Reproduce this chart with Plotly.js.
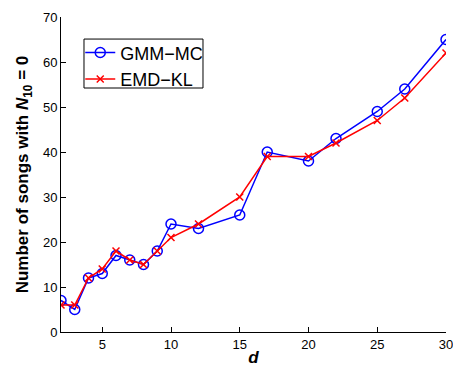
<!DOCTYPE html>
<html>
<head>
<meta charset="utf-8">
<script src="https://cdn.plot.ly/plotly-3.0.1.min.js"></script>
<style>html,body{margin:0;padding:0;background:#fff;}#chart{width:453px;height:367px;}</style>
</head>
<body>
<div id="chart"></div>
<script>
const dValues = [2, 3, 4, 5, 6, 7, 8, 9, 10, 12, 15, 17, 20, 22, 25, 27, 30];
const gmmMC = [7, 5, 12, 13, 17, 16, 15, 18, 24, 23, 26, 40, 38, 43, 49, 54, 65];
const emdKL = [6, 6, 12, 14, 18, 16, 15, 18, 21, 24, 30, 39, 39, 42, 47, 52, 62];
const seriesNames = ['GMM\u2212MC', 'EMD\u2212KL'];
const xTicks = [5, 10, 15, 20, 25, 30];
const yTicks = [0, 10, 20, 30, 40, 50, 60, 70];

const font = 'Liberation Sans, Arial, Helvetica, sans-serif';
const traces = [
  {x: dValues, y: gmmMC, name: seriesNames[0], type: 'scatter', mode: 'lines+markers',
   line: {color: '#0000ff', width: 1.5},
   marker: {symbol: 'circle-open', size: 10, color: '#0000ff', line: {width: 1.5, color: '#0000ff'}}},
  {x: dValues, y: emdKL, name: seriesNames[1], type: 'scatter', mode: 'lines+markers',
   line: {color: '#ff0000', width: 1.5},
   marker: {symbol: 'x-thin-open', size: 7, color: '#ff0000', line: {width: 1.5, color: '#ff0000'}}}
];
const layout = {
  width: 453, height: 367,
  margin: {l: 61, r: 7, t: 17, b: 35},
  paper_bgcolor: '#fff', plot_bgcolor: '#fff',
  font: {family: font, size: 13, color: '#000'},
  showlegend: true,
  legend: {x: 0.05, y: 0.945, xanchor: 'left', yanchor: 'top',
    bgcolor: 'rgba(0,0,0,0)', borderwidth: 0,
    font: {family: font, size: 18, color: '#000'}, tracegroupgap: 0, itemwidth: 30},
  shapes: [{type: 'rect', xref: 'paper', yref: 'paper', x0: 0.0597, x1: 0.3688, y0: 0.7746, y1: 0.930,
    line: {color: '#000', width: 1}, fillcolor: '#fff', layer: 'above'}],
  xaxis: {range: [1.9999, 30.0001], tickvals: xTicks, ticks: 'inside', ticklen: 5, tickcolor: '#000',
    showgrid: false, zeroline: false, showline: true, linecolor: '#000', linewidth: 1,
    ticklabeloverflow: 'allow', automargin: false,
    tickfont: {size: 13, family: font},
    title: {text: '<b><i>d</i></b>', font: {size: 17, family: font}, standoff: 4}},
  yaxis: {range: [0, 70], tickvals: yTicks, ticks: 'inside', ticklen: 5, tickcolor: '#000',
    showgrid: false, zeroline: false, showline: true, linecolor: '#000', linewidth: 1,
    ticklabeloverflow: 'allow', automargin: false,
    tickfont: {size: 13, family: font},
    title: {text: '<b>Number of songs with <i>N</i><sub>10</sub> = 0</b>', font: {size: 17, family: font}, standoff: 9}}
};
Plotly.newPlot('chart', traces, layout, {displayModeBar: false, staticPlot: true});
</script>
</body>
</html>
